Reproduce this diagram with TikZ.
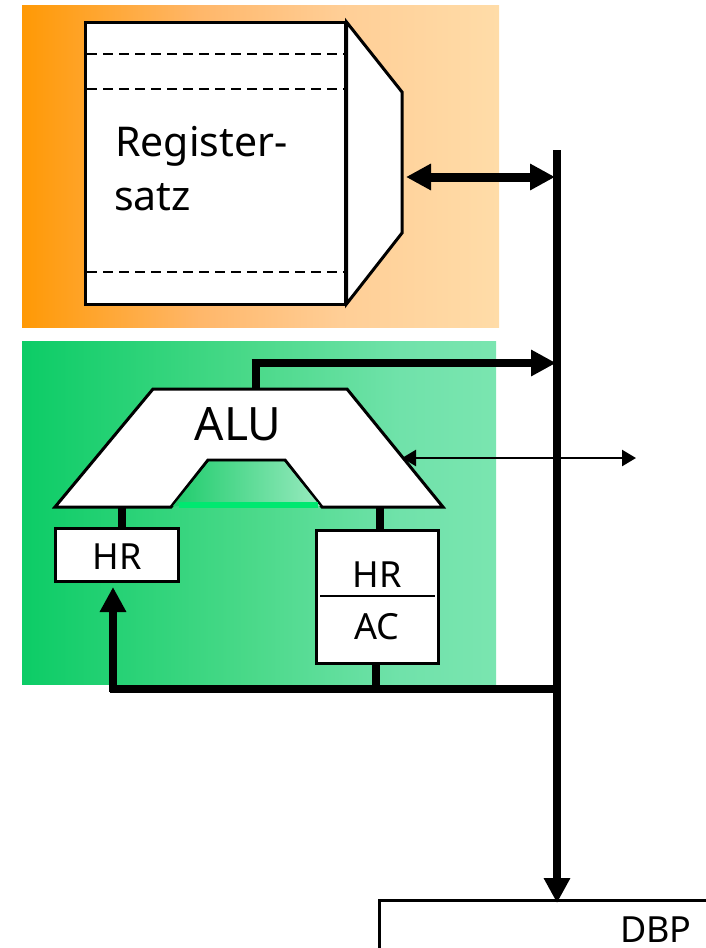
\documentclass[tikz,border=0pt]{standalone}
\usepackage{fontspec}
\setmainfont{Noto Sans}
\usetikzlibrary{arrows.meta}
\definecolor{innerL}{HTML}{1FCC6C}
\definecolor{innerR}{HTML}{98EABF}
\definecolor{stripC}{HTML}{00E870}
\definecolor{orA}{RGB}{255,153,5}
\definecolor{orB}{RGB}{255,183,106}
\definecolor{orC}{RGB}{255,206,150}
\definecolor{orD}{RGB}{255,220,168}
\definecolor{grA}{RGB}{12,204,102}
\definecolor{grB}{RGB}{74,217,137}
\definecolor{grC}{RGB}{112,226,170}
\definecolor{grD}{RGB}{122,229,176}
\pgfdeclarehorizontalshading{orangeSh}{100bp}{
  color(0bp)=(orA);
  color(25bp)=(orA);
  color(43.7bp)=(orB);
  color(58.3bp)=(orC);
  color(75bp)=(orD);
  color(100bp)=(orD)}
\pgfdeclarehorizontalshading{greenSh}{100bp}{
  color(0bp)=(grA);
  color(25bp)=(grA);
  color(49bp)=(grB);
  color(64.9bp)=(grC);
  color(75bp)=(grD);
  color(100bp)=(grD)}
\tikzset{
  bigtip/.tip={Triangle[length=25pt,width=25pt]},
  smalltip/.tip={Triangle[length=14pt,width=16pt]},
  bus/.style={line width=8pt,draw=black},
  midbus/.style={line width=9pt,draw=black},
  wbox/.style={draw=black,line width=3pt,fill=white,rectangle,inner sep=0pt},
  outline/.style={draw=black,line width=3pt,fill=white,line join=miter},
  dashdiv/.style={draw=black,line width=2pt,dash pattern=on 10pt off 6pt},
  lbl/.style={inner sep=0pt,text=black,font=\fontsize{36}{36}\selectfont},
  biglbl/.style={lbl,font=\fontsize{46}{46}\selectfont},
  reglbl/.style={lbl,font=\fontsize{41}{41}\selectfont,anchor=base west},
}
\begin{document}
\begin{tikzpicture}[x=1pt,y=-1pt]
\useasboundingbox (0,0) rectangle (706,948);
% background panels
\path[shading=orangeSh] (22,5) rectangle (499,327);
\path[shading=greenSh] (22,341) rectangle (496,684);
% register file
\draw[outline] (346.5,22) -- (402,92) -- (402,233) -- (346.5,304) -- cycle;
\node[wbox,minimum width=260pt,minimum height=282pt] (reg) at (215.5,163) {};
\coordinate (regport) at (404,177);
\draw[dashdiv] (87,54) -- (344,54);
\draw[dashdiv] (87,89) -- (344,89);
\draw[dashdiv] (87,272) -- (344,272);
\node[reglbl] (regA) at (115,156) {Register-};
\node[reglbl] (regB) at (114,210) {satz};
% ALU
\draw[outline] (153,389) -- (347,389) -- (443,507) -- (322,507) -- (285,460) -- (208,460) -- (171,507) -- (55,507) -- cycle;
\path[shading=axis,left color=innerL,right color=innerR] (209,461.5) -- (284,461.5) -- (320,506) -- (173,506) -- cycle;
\draw[draw=stripC,line width=6pt] (179,505) -- (318,505);
\node[biglbl] (alu) at (238,424) {ALU};
\coordinate (alutop) at (255.5,388);
\coordinate (alucorner) at (255.5,363);
\coordinate (aluL) at (122,506);
\coordinate (aluR) at (380,506);
\coordinate (aluport) at (402,458);
% registers under ALU
\node[wbox,minimum width=123pt,minimum height=53pt] (hrl) at (116.5,554.5) {};
\node[lbl] (hrltext) at (117,557) {HR};
\node[wbox,minimum width=122pt,minimum height=133pt] (hrac) at (377,596.5) {};
\node[lbl] (hrtext) at (377,575) {HR};
\node[lbl] (actext) at (377,627) {AC};
\draw[line width=2.5pt] (320,596) -- (435,596);
% DBP
\coordinate (dbpbl) at (379,948);
\coordinate (dbptl) at (379,900);
\coordinate (dbptr) at (706,900);
\draw[line width=3pt] (dbpbl) -- (dbptl) -- (dbptr);
\node[lbl,anchor=base] (dbptext) at (656,942) {DBP};
% bus
\coordinate (bustop) at (557,150);
\coordinate (busbot) at (557,903);
\coordinate (busreg) at (555,177);
\coordinate (busalu) at (556,363);
\coordinate (busthin) at (636,458);
\coordinate (lowR) at (561,689);
\coordinate (lowL) at (110,689);
\coordinate (lowUp) at (113,692);
\coordinate (hrlin) at (113,587);
\coordinate (lowAC) at (376,689);
\draw[bus,-{bigtip}] (bustop) -- (busbot);
\draw[midbus,{bigtip}-{bigtip}] (regport)++(2,0) -- (busreg);
\draw[bus,-{bigtip}] (alutop) -- (alucorner) ++(-4,0) -- (busalu);
\draw[line width=2.5pt,{smalltip}-{smalltip}] (aluport) -- (busthin);
\draw[bus] (lowL) -- (lowR);
\draw[bus,-{bigtip}] (lowUp) -- (hrlin);
\draw[bus] (aluL) -- (hrl.north -| aluL);
\draw[bus] (aluR) -- (hrac.north -| aluR);
\draw[bus] (hrac.south -| lowAC) -- (lowAC);
\end{tikzpicture}
\end{document}
